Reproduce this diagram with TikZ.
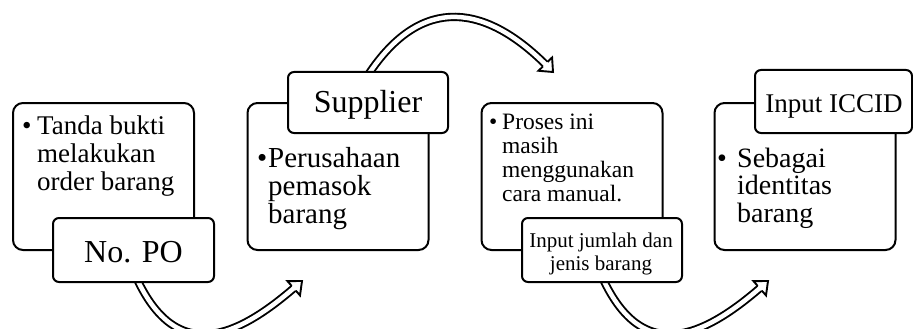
\documentclass[tikz,border=0pt]{standalone}
\usepackage{fontspec}
\setmainfont{Liberation Serif}
\usetikzlibrary{calc}
\pgfdeclarelayer{bg}
\pgfsetlayers{bg,main}
% hollow arrow head at #1, its axis pointing away from #2
\newcommand\hollowhead[2]{%
  \coordinate (hb) at ($(#1)!11pt!(#2)$);
  \filldraw[headline] ($(hb)!3.2pt!90:(#1)$) -- ($(hb)!9.5pt!90:(#1)$) -- (#1)
    -- ($(hb)!9.5pt!-90:(#1)$) -- ($(hb)!3.2pt!-90:(#1)$);
}
\begin{document}
\begin{tikzpicture}[x=1pt,y=-1pt,
  panel/.style={draw, line width=2pt, rounded corners=10pt, fill=white,
    minimum width=181pt, minimum height=147pt, inner sep=0pt},
  tag/.style={draw, line width=2pt, rounded corners=6pt, fill=white,
    minimum width=160pt, minimum height=63pt, inner sep=0pt},
  txt/.style={anchor=base west, inner sep=0pt},
  mid/.style={anchor=base, inner sep=0pt},
  flow/.style={double, double distance=4.5pt, line width=1.9pt, shorten >=6pt},
  headline/.style={fill=white, line width=1.9pt, line join=miter},
]
\useasboundingbox (0,0) rectangle (913,329);

% step 1
\node[panel] (box1) at (103.5,176.5) {};
\node[txt, font=\fontsize{27}{28}\selectfont] (bul1) at (22,134) {\textbullet};
\node[txt, font=\fontsize{27}{28}\selectfont] (body1) at (37,134)
  {\begin{tabular}[t]{@{}l@{}}Tanda bukti\\melakukan\\order barang\end{tabular}};
\node[tag, minimum width=161pt, minimum height=64pt] (lab1) at (133.5,250) {};
\node[mid, font=\fontsize{32}{34}\selectfont] (t1) at (133.5,262) {No. PO};

% step 2
\node[panel] (box2) at (338,176.5) {};
\node[txt, font=\fontsize{29}{27.5}\selectfont] (bul2) at (257,167) {\textbullet};
\node[txt, font=\fontsize{29}{27.5}\selectfont] (body2) at (268,167)
  {\begin{tabular}[t]{@{}l@{}}Perusahaan\\pemasok\\barang\end{tabular}};
\node[tag, minimum height=61pt] (lab2) at (368,102.5) {};
\node[mid, font=\fontsize{32}{34}\selectfont] (t2) at (368,112) {Supplier};

% step 3
\node[panel] (box3) at (572,176.5) {};
\node[txt, font=\fontsize{23.5}{24}\selectfont] (bul3) at (489,129) {\textbullet};
\node[txt, font=\fontsize{23.5}{24}\selectfont] (body3) at (502,129)
  {\begin{tabular}[t]{@{}l@{}}Proses ini\\masih\\menggunakan\\cara manual.\end{tabular}};
\node[tag, minimum height=64pt] (lab3) at (602,250) {};
\node[mid, font=\fontsize{21}{23}\selectfont] (t3) at (601,247)
  {\begin{tabular}[t]{@{}c@{}}Input jumlah dan\\jenis barang\end{tabular}};

% step 4
\node[panel] (box4) at (805,176.5) {};
\node[txt, font=\fontsize{28}{27}\selectfont] (bul4) at (717,167) {\textbullet};
\node[txt, font=\fontsize{28}{27}\selectfont] (body4) at (737,167)
  {\begin{tabular}[t]{@{}l@{}}Sebagai\\identitas\\barang\end{tabular}};
\node[tag, minimum width=157pt] (lab4) at (833.5,101.5) {};
\node[mid, font=\fontsize{27}{29}\selectfont] (t4) at (834,112) {Input ICCID};

% curved hollow arrows between the steps
\coordinate (tip1) at (302,281);
\coordinate (tip2) at (553,72);
\coordinate (tip3) at (768,281);
\coordinate (c1) at (236,339);
\coordinate (c2) at (487,4.5);
\coordinate (c3) at (702,339);
\begin{pgfonlayer}{bg}
  \draw[flow] ($(lab1.south)+(3.5,-4)$) .. controls +(40,85) and (c1) .. (tip1);
  \draw[flow] ($(lab2.north)+(0,4)$) .. controls +(54,-82) and (c2) .. (tip2);
  \draw[flow] ($(lab3.south)+(1,-4)$) .. controls +(40,85) and (c3) .. (tip3);
  \hollowhead{tip1}{c1}
  \hollowhead{tip2}{c2}
  \hollowhead{tip3}{c3}
\end{pgfonlayer}
\end{tikzpicture}
\end{document}
